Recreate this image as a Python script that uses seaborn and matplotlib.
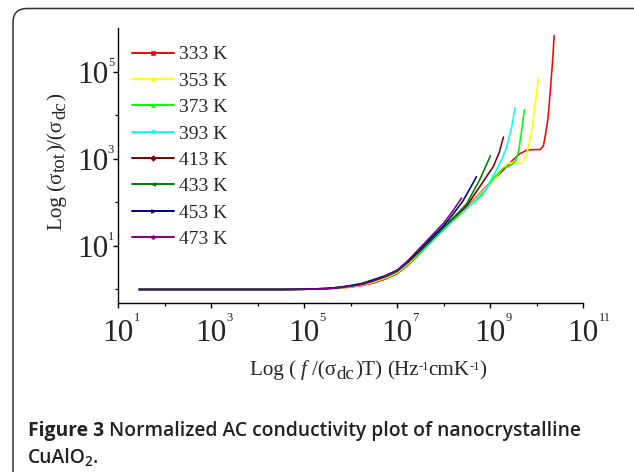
import numpy as np
import pandas as pd
import matplotlib
matplotlib.use("Agg")
import matplotlib.pyplot as plt
import seaborn as sns
from matplotlib.lines import Line2D
from matplotlib.patches import FancyBboxPatch
from matplotlib.transforms import IdentityTransform
from matplotlib.ticker import FixedLocator, FuncFormatter, NullFormatter

# ---------------- data (log10 of x and log10 of y) ----------------
temps = ["333 K", "353 K", "373 K", "393 K", "413 K", "433 K", "453 K", "473 K"]
colors = ["#FF0000", "#FFFF00", "#00FF00", "#00FFFF", "#800000", "#008000", "#000080", "#800080"]
markers = ["s", "o", "^", "v", "D", "<", ">", "h"]

lx_333 = [1.45, 2.5, 3.5, 4.5, 5.0, 5.5, 5.75, 6.0, 6.25, 6.5, 6.75, 7.0, 7.25, 7.5, 7.75, 8.0, 8.25, 8.5, 8.75, 9.0, 9.2, 9.36, 9.5, 9.65, 9.8, 9.95, 10.08, 10.15, 10.2, 10.25, 10.3, 10.35, 10.38]
ly_333 = [0.0, 0.0, 0.0, 0.0, 0.003, 0.015, 0.03, 0.055, 0.09, 0.15, 0.24, 0.36, 0.57, 0.83, 1.1, 1.37, 1.63, 1.9, 2.17, 2.45, 2.65, 2.82, 2.98, 3.12, 3.2, 3.21, 3.21, 3.3, 3.6, 3.95, 4.6, 5.3, 5.83]

lx_353 = [1.45, 2.5, 3.5, 4.5, 5.0, 5.5, 5.75, 6.0, 6.25, 6.5, 6.75, 7.0, 7.25, 7.5, 7.75, 8.0, 8.25, 8.5, 8.75, 9.07, 9.25, 9.36, 9.5, 9.65, 9.72, 9.8, 9.9, 9.97, 10.04]
ly_353 = [0.0, 0.0, 0.0, 0.0, 0.004, 0.018, 0.035, 0.065, 0.1, 0.17, 0.26, 0.38, 0.59, 0.85, 1.11, 1.38, 1.63, 1.88, 2.15, 2.5, 2.75, 2.88, 2.92, 2.92, 2.94, 3.15, 3.67, 4.25, 4.83]

lx_373 = [1.45, 2.5, 3.5, 4.5, 5.0, 5.5, 5.75, 6.0, 6.25, 6.5, 6.75, 7.0, 7.25, 7.5, 7.75, 8.0, 8.25, 8.5, 8.7, 8.85, 9.07, 9.28, 9.45, 9.55, 9.62, 9.68, 9.74]
ly_373 = [0.0, 0.0, 0.0, 0.0, 0.005, 0.02, 0.04, 0.072, 0.11, 0.19, 0.28, 0.4, 0.61, 0.86, 1.12, 1.38, 1.62, 1.86, 2.05, 2.2, 2.55, 2.78, 2.85, 2.95, 3.2, 3.65, 4.13]

lx_393 = [1.45, 2.5, 3.5, 4.3, 4.35, 4.4, 5.0, 5.5, 5.75, 6.0, 6.25, 6.5, 6.75, 7.0, 7.25, 7.5, 7.75, 8.0, 8.25, 8.5, 8.7, 8.91, 9.14, 9.28, 9.36, 9.47, 9.54]
ly_393 = [0.0, 0.0, 0.0, 0.0, 0.01, 0.0, 0.005, 0.02, 0.042, 0.075, 0.115, 0.2, 0.29, 0.41, 0.62, 0.87, 1.13, 1.4, 1.65, 1.88, 2.07, 2.3, 2.75, 3.05, 3.28, 3.75, 4.17]

lx_413 = [1.45, 2.5, 3.5, 4.5, 5.0, 5.5, 5.75, 6.0, 6.25, 6.5, 6.75, 7.0, 7.25, 7.5, 7.75, 8.0, 8.25, 8.5, 8.78, 9.07, 9.2, 9.29]
ly_413 = [0.0, 0.0, 0.0, 0.0, 0.005, 0.022, 0.045, 0.08, 0.125, 0.21, 0.3, 0.42, 0.64, 0.89, 1.15, 1.42, 1.67, 1.92, 2.36, 2.82, 3.15, 3.5]

lx_433 = [1.45, 2.5, 3.5, 4.5, 5.0, 5.5, 5.75, 6.0, 6.25, 6.5, 6.75, 7.0, 7.25, 7.5, 7.75, 8.0, 8.25, 8.5, 8.78, 9.01]
ly_433 = [0.0, 0.0, 0.0, 0.0, 0.006, 0.025, 0.05, 0.09, 0.14, 0.23, 0.32, 0.44, 0.65, 0.9, 1.16, 1.43, 1.69, 1.97, 2.52, 3.07]

lx_453 = [1.45, 2.5, 3.5, 4.5, 5.0, 5.5, 5.75, 6.0, 6.25, 6.5, 6.75, 7.0, 7.25, 7.5, 7.75, 8.0, 8.2, 8.4, 8.55, 8.71]
ly_453 = [0.0, 0.0, 0.0, 0.0, 0.006, 0.025, 0.05, 0.088, 0.135, 0.22, 0.31, 0.44, 0.66, 0.92, 1.19, 1.46, 1.72, 2.0, 2.28, 2.59]

lx_473 = [1.45, 2.5, 3.5, 4.5, 5.0, 5.5, 5.75, 6.0, 6.25, 6.5, 6.75, 7.0, 7.25, 7.5, 7.75, 8.0, 8.2, 8.39]
ly_473 = [0.0, 0.0, 0.0, 0.0, 0.004, 0.02, 0.04, 0.078, 0.12, 0.2, 0.3, 0.43, 0.68, 0.96, 1.24, 1.52, 1.8, 2.1]

series_lx = [lx_333, lx_353, lx_373, lx_393, lx_413, lx_433, lx_453, lx_473]
series_ly = [ly_333, ly_353, ly_373, ly_393, ly_413, ly_433, ly_453, ly_473]

x_major_exp = [1, 3, 5, 7, 9, 11]
x_minor_exp = [2, 4, 6, 8, 10]
y_major_exp = [1, 3, 5]
y_minor_exp = [0, 2, 4]

rows = []
for t, lx, ly in zip(temps, series_lx, series_ly):
    for a, b in zip(lx, ly):
        rows.append({"x": 10.0 ** a, "y": 10.0 ** b, "T": t})
df = pd.DataFrame(rows)

# ---------------- style ----------------
sns.set_style("ticks")
SERIF = ["Liberation Serif", "DejaVu Serif"]
plt.rcParams["font.family"] = SERIF

W, H = 634, 472
fig = plt.figure(figsize=(W / 100, H / 100), dpi=100)
ax = fig.add_axes([118 / W, 1 - 303 / H, (583 - 118) / W, (303 - 28) / H])

sns.lineplot(data=df, x="x", y="y", hue="T", hue_order=temps, palette=colors,
             estimator=None, sort=False, legend=False, linewidth=1.15, ax=ax)

ax.set_xscale("log")
ax.set_yscale("log")
ax.set_xlim(10, 1e11)
ax.set_ylim(0.49, 1e6)
ax.set_xlabel("")
ax.set_ylabel("")

for s in ["top", "right"]:
    ax.spines[s].set_visible(False)
for s in ["left", "bottom"]:
    ax.spines[s].set_linewidth(1.0)
    ax.spines[s].set_color("black")

ax.xaxis.set_major_locator(FixedLocator([10.0 ** e for e in x_major_exp]))
ax.xaxis.set_minor_locator(FixedLocator([10.0 ** e for e in x_minor_exp]))
ax.yaxis.set_major_locator(FixedLocator([10.0 ** e for e in y_major_exp]))
ax.yaxis.set_minor_locator(FixedLocator([10.0 ** e for e in y_minor_exp]))
ax.xaxis.set_major_formatter(FuncFormatter(lambda v, p: "10"))
ax.yaxis.set_major_formatter(FuncFormatter(lambda v, p: "10"))
ax.xaxis.set_minor_formatter(NullFormatter())
ax.yaxis.set_minor_formatter(NullFormatter())

ax.tick_params(axis="both", which="major", length=3.6, width=1.0, labelsize=22.5, color="black")
ax.tick_params(axis="both", which="minor", length=2.2, width=0.9, color="black")
ax.tick_params(axis="x", which="major", pad=8)
ax.tick_params(axis="y", which="major", pad=3.5)

# exponents of tick labels
for e in x_major_exp:
    ax.annotate(str(e), xy=(10.0 ** e, 0), xycoords=("data", "axes fraction"),
                xytext=(11.2, -10.5), textcoords="offset points",
                ha="left", va="center", fontsize=9, annotation_clip=False)
for e in y_major_exp:
    ax.annotate(str(e), xy=(0, 10.0 ** e), xycoords=("axes fraction", "data"),
                xytext=(-7.3, 6.5), textcoords="offset points",
                ha="left", va="center", fontsize=9, annotation_clip=False)

renderer = fig.canvas.get_renderer()


def compose(pieces, center, baseline, rotation=0):
    """pieces: (text, fontsize, style, gap_px_before, shift_px) ; shift is perpendicular raise."""
    arts = []
    for s, fs, st, gap, shift in pieces:
        t = fig.text(0, 0, s, fontsize=fs, style=st, family=SERIF, transform=IdentityTransform(),
                     rotation=rotation, rotation_mode="anchor", ha="left", va="baseline")
        ext = t.get_window_extent(renderer)
        adv = ext.width if rotation == 0 else ext.height
        arts.append((t, gap, adv, shift))
    total = sum(g + a for _, g, a, _ in arts)
    pos = center - total / 2
    for t, gap, adv, shift in arts:
        pos += gap
        if rotation == 0:
            t.set_position((pos, baseline + shift))
        else:
            t.set_position((baseline - shift, pos))
        pos += adv


FS = 15.2
SP = 4.8
xl = [("Log (", FS, "normal", 0, 0), ("f", FS, "italic", SP, 0), ("/(σ", FS, "normal", SP, 0),
      ("dc", FS * 0.9, "normal", 1, -4), (")T)", FS, "normal", 1, 0), ("(Hz", FS, "normal", SP, 0),
      ("-1", FS * 0.6, "normal", -0.5, 5.5), ("cmK", FS, "normal", -0.5, 0),
      ("-1", FS * 0.6, "normal", -0.5, 5.5), (")", FS, "normal", -0.5, 0)]
compose(xl, center=368, baseline=H - 375)

yl = [("Log (σ", FS, "normal", 0, 0), ("tot", FS * 0.9, "normal", 1, -3), (")/(σ", FS, "normal", 1, 0),
      ("dc", FS * 0.9, "normal", 1, -3), (")", FS, "normal", 1, 0)]
compose(yl, center=H - 161.5, baseline=62, rotation=90)

handles = [Line2D([0], [0], color=c, lw=1.4, marker=m, markersize=2.8,
                  markeredgewidth=0.5) for c, m in zip(colors, markers)]
ax.legend(handles, temps, loc="upper left", bbox_to_anchor=(0.03, 0.935),
          frameon=False, fontsize=14, handlelength=2.15, handletextpad=0.25,
          labelspacing=0.45, borderaxespad=0, borderpad=0)

# rounded frame
box = FancyBboxPatch((0.13, -0.6), 7.0, 4.635 + 0.6, boxstyle="round,pad=0,rounding_size=0.14",
                     transform=fig.dpi_scale_trans, facecolor="none", edgecolor="#333333",
                     linewidth=1.1)
fig.add_artist(box)

# caption
cap_font = ["Open Sans", "DejaVu Sans"]
CF = 13.9
y1 = 41 / H
y2 = 14 / H
x0 = 28 / W
t1 = fig.text(x0, y1, "Figure 3", fontsize=CF, fontweight="bold", family=cap_font,
              va="center", ha="left", color="#222222")
w1 = t1.get_window_extent(renderer).width / fig.bbox.width
fig.text(x0 + w1 + 5 / W, y1, "Normalized AC conductivity plot of nanocrystalline", fontsize=CF,
         fontweight="semibold", family=cap_font, va="center", ha="left", color="#222222")
t3 = fig.text(x0, y2, "CuAlO", fontsize=CF, fontweight="semibold", family=cap_font,
              va="center", ha="left", color="#222222")
w3 = t3.get_window_extent(renderer).width / fig.bbox.width
t4 = fig.text(x0 + w3 - 1.5 / W, y2 - 4 / H, "2", fontsize=CF * 0.7, fontweight="semibold",
              family=cap_font, va="center", ha="left", color="#222222")
w4 = t4.get_window_extent(renderer).width / fig.bbox.width
fig.text(x0 + w3 + w4 - 1 / W, y2, ".", fontsize=CF, fontweight="semibold", family=cap_font,
         va="center", ha="left", color="#222222")

fig.savefig("out.png", dpi=100)
